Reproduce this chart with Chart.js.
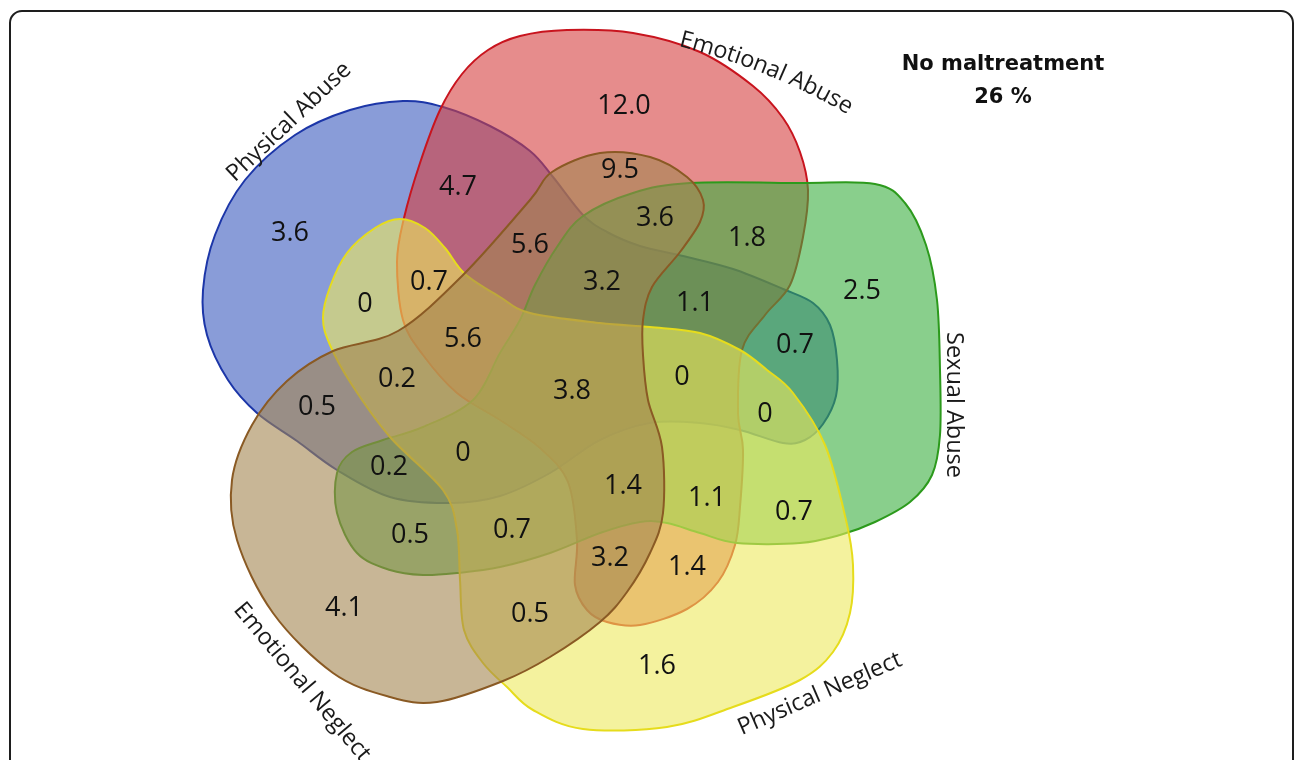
<!DOCTYPE html>
<html>
<head>
<meta charset="utf-8">
<title>Maltreatment overlap</title>
<script src="https://cdn.jsdelivr.net/npm/chart.js"></script>
<style>
  html, body { margin: 0; padding: 0; background: #fff; }
  canvas { display: block; }
</style>
</head>
<body>
<canvas id="venn" width="1296" height="760"></canvas>
<script>
// Sets
const setNames = ['Physical Abuse', 'Emotional Abuse', 'Sexual Abuse', 'Physical Neglect', 'Emotional Neglect'];

// Percent in each region of the diagram
const regionValues = ['12.0', '9.5', '4.7', '3.6', '3.6', '1.8', '5.6', '2.5', '0.7', '3.2', '1.1',
  '0', '5.6', '0.7', '0.2', '0', '3.8', '0.5', '0', '0.2', '0', '1.4', '1.1', '0.7', '0.5', '0.7',
  '3.2', '1.4', '4.1', '0.5', '1.6'];
// where each region number sits (chart units)
const regionX = [624, 620, 458, 290, 655, 747, 530, 862, 429, 602, 695, 365, 463, 795, 397, 682, 572, 317, 765, 389, 463, 623, 707, 794, 410, 512, 610, 687, 344, 530, 657];
const regionY = [106, 170, 187, 233, 218, 238, 245, 291, 282, 282, 303, 304, 339, 345, 379, 377, 391, 407, 414, 467, 453, 486, 498, 512, 535, 530, 558, 567, 608, 614, 666];

const noneLabel = 'No maltreatment';
const noneValue = '26 %';

// Outline of each set (chart units)
const physicalAbuseOutline = [[403, 101], [443, 107], [490, 126], [530, 151], [553, 177], [583, 215], [607, 232],
  [640, 246], [683, 256], [733, 269], [783, 289], [813, 303], [830, 325], [837, 360], [836, 396], [823, 424],
  [805, 440], [783, 443], [740, 430], [700, 423], [650, 423], [600, 440], [550, 473], [500, 496], [450, 503],
  [390, 497], [337, 470], [297, 441], [257, 413], [228, 380], [207, 335], [203, 290], [215, 235], [245, 180],
  [295, 135], [350, 110]];
const emotionalAbuseOutline = [[520, 36], [567, 30], [633, 33], [700, 52], [753, 86], [783, 118], [800, 152],
  [808, 190], [803, 237], [790, 285], [765, 315], [742, 350], [738, 413], [743, 450], [740, 507], [735, 545],
  [718, 582], [687, 609], [640, 625], [607, 622], [587, 610], [575, 585], [577, 540], [568, 482], [540, 448],
  [500, 420], [457, 393], [423, 355], [403, 320], [397, 262], [404, 218], [420, 163], [440, 110], [462, 74],
  [488, 50]];
const sexualAbuseOutline = [[583, 216], [633, 193], [690, 183], [800, 183], [875, 184], [905, 203], [926, 245],
  [937, 300], [940, 370], [940, 435], [932, 475], [910, 502], [875, 522], [840, 535], [800, 543], [737, 543],
  [700, 533], [667, 523], [640, 522], [600, 533], [550, 553], [500, 567], [457, 573], [423, 575], [390, 570],
  [357, 553], [337, 513], [337, 473], [352, 452], [383, 440], [423, 427], [473, 400], [500, 353], [520, 320],
  [535, 285], [557, 247]];
const physicalNeglectOutline = [[400, 219], [425, 228], [445, 248], [465, 274], [500, 297], [530, 313], [600, 323],
  [650, 327], [700, 333], [740, 350], [767, 370], [793, 393], [825, 445], [846, 520], [853, 565], [850, 613],
  [833, 652], [800, 680], [733, 707], [667, 727], [583, 729], [533, 710], [507, 687], [483, 663], [464, 630],
  [460, 580], [457, 530], [443, 490], [390, 437], [352, 385], [330, 345], [323, 318], [330, 287], [347, 253],
  [375, 228]];
const emotionalNeglectOutline = [[287, 381], [333, 351], [398, 331], [463, 275], [530, 200], [552, 172], [600, 153],
  [650, 157], [687, 177], [703, 200], [700, 222], [680, 252], [652, 287], [643, 320], [643, 355], [648, 400],
  [662, 447], [663, 513], [650, 553], [627, 592], [600, 622], [550, 657], [503, 681], [437, 702], [390, 697],
  [333, 673], [273, 613], [237, 540], [232, 480], [252, 425]];

const outlines = [physicalAbuseOutline, emotionalAbuseOutline, sexualAbuseOutline, physicalNeglectOutline, emotionalNeglectOutline];
const setFills = ['rgba(58, 90, 190, 0.6)', 'rgba(213, 63, 63, 0.6)', 'rgba(58, 175, 63, 0.6)',
  'rgba(237, 233, 93, 0.6)', 'rgba(163, 133, 80, 0.6)'];
const setStrokes = ['#1c36a8', '#c8141e', '#2c9a1c', '#e6dc1c', '#8a5a24'];

// set name placement: centre, angle (deg) and bend radius (0 = straight)
const setLabelX = [289, 768, 954, 820, 302];
const setLabelY = [122, 68, 405, 694, 682];
const setLabelAngle = [-43.5, 22, 90, -23.5, 50];
const setLabelBend = [0, 650, 0, 0, 0];

// closed catmull-rom through the points
function closedCurve(ctx, pts) {
  const n = pts.length;
  ctx.moveTo(pts[0][0], pts[0][1]);
  for (let i = 0; i < n; i++) {
    const p0 = pts[(i - 1 + n) % n], p1 = pts[i], p2 = pts[(i + 1) % n], p3 = pts[(i + 2) % n];
    ctx.bezierCurveTo(
      p1[0] + (p2[0] - p0[0]) / 6, p1[1] + (p2[1] - p0[1]) / 6,
      p2[0] - (p3[0] - p1[0]) / 6, p2[1] - (p3[1] - p1[1]) / 6,
      p2[0], p2[1]);
  }
  ctx.closePath();
}

// text along an arc bending downward, or straight when r is 0
function drawLabel(ctx, text, cx, cy, deg, r) {
  const a = deg * Math.PI / 180;
  if (!r) {
    ctx.save();
    ctx.translate(cx, cy);
    ctx.rotate(a);
    ctx.fillText(text, 0, 0);
    ctx.restore();
    return;
  }
  const w = ctx.measureText(text).width;
  const ox = cx - r * Math.sin(a), oy = cy + r * Math.cos(a);
  let s = 0;
  for (const ch of text) {
    const cw = ctx.measureText(ch).width;
    const phi = a + (s + cw / 2 - w / 2) / r;
    ctx.save();
    ctx.translate(ox + r * Math.sin(phi), oy - r * Math.cos(phi));
    ctx.rotate(phi);
    ctx.fillText(ch, 0, 0);
    ctx.restore();
    s += cw;
  }
}

const vennPlugin = {
  id: 'venn',
  beforeDraw(chart) {
    const ctx = chart.ctx;
    // rounded frame, runs off the bottom
    ctx.save();
    ctx.strokeStyle = '#1e1e1e';
    ctx.lineWidth = 2;
    ctx.beginPath();
    ctx.roundRect(10, 11, 1283, 800, 12);
    ctx.stroke();
    ctx.restore();
  },
  beforeDatasetsDraw(chart) {
    const {ctx, scales: {x, y}} = chart;
    outlines.forEach((outline, i) => {
      const pts = outline.map(p => [x.getPixelForValue(p[0]), y.getPixelForValue(p[1])]);
      ctx.save();
      ctx.beginPath();
      closedCurve(ctx, pts);
      ctx.fillStyle = setFills[i];
      ctx.fill();
      ctx.lineWidth = 2;
      ctx.strokeStyle = setStrokes[i];
      ctx.stroke();
      ctx.restore();
    });
  },
  afterDatasetsDraw(chart) {
    const {ctx, scales: {x, y}} = chart;
    ctx.save();
    ctx.textAlign = 'center';
    ctx.textBaseline = 'middle';

    // region numbers
    ctx.fillStyle = '#111';
    ctx.font = '27px "Open Sans"';
    chart.getDatasetMeta(0).data.forEach((pt, i) => {
      ctx.fillText(regionValues[i], pt.x, pt.y);
    });

    // set names
    ctx.fillStyle = '#1a1a1a';
    ctx.font = '23.5px "Open Sans"';
    chart.getDatasetMeta(1).data.forEach((pt, i) => {
      drawLabel(ctx, setNames[i], pt.x, pt.y, setLabelAngle[i], setLabelBend[i]);
    });

    ctx.fillStyle = '#111';
    ctx.font = 'bold 21px "DejaVu Sans"';
    ctx.fillText(noneLabel, x.getPixelForValue(1003), y.getPixelForValue(65));
    ctx.fillText(noneValue, x.getPixelForValue(1003), y.getPixelForValue(98));
    ctx.restore();
  }
};

const ctx = document.getElementById('venn').getContext('2d');
const chart = new Chart(ctx, {
  type: 'scatter',
  data: {
    datasets: [{
      label: 'regions',
      data: regionX.map((v, i) => ({x: v, y: regionY[i]})),
      pointRadius: 0
    }, {
      label: 'sets',
      data: setLabelX.map((v, i) => ({x: v, y: setLabelY[i]})),
      pointRadius: 0
    }]
  },
  options: {
    responsive: false,
    animation: false,
    layout: {padding: 0},
    scales: {
      x: {type: 'linear', min: 0, max: 1296, display: false},
      y: {type: 'linear', min: 0, max: 760, reverse: true, display: false}
    },
    plugins: {legend: {display: false}, tooltip: {enabled: false}}
  },
  plugins: [vennPlugin]
});
</script>
</body>
</html>
